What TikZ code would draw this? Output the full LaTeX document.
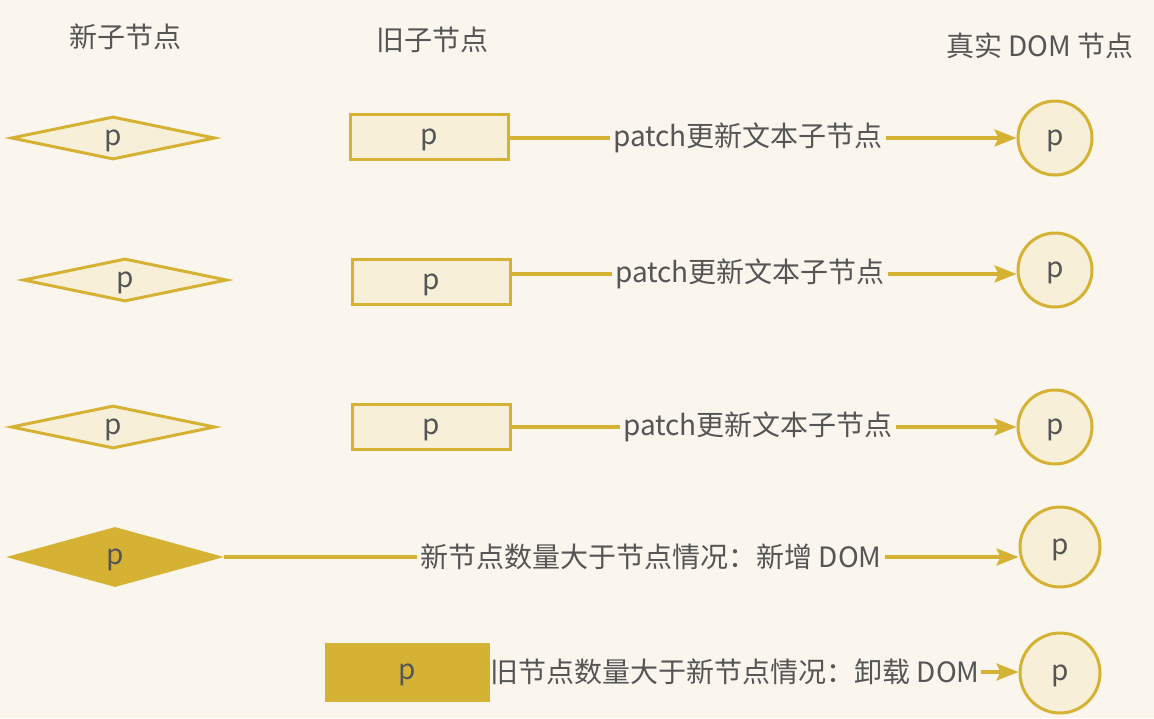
\documentclass[tikz,border=0pt]{standalone}
\usepackage{fontspec}
\setmainfont{Noto Sans CJK SC}
\usetikzlibrary{shapes.geometric,arrows.meta}
\definecolor{bg}{HTML}{FAF6EE}
\definecolor{lightfill}{HTML}{F7EFD7}
\definecolor{gold}{HTML}{D6B234}
\definecolor{txt}{HTML}{555555}
\begin{document}
\begin{tikzpicture}[x=1pt,y=-1pt,
  every node/.style={text=txt,font=\fontsize{28}{32}\selectfont},
  ptext/.style={text height=17pt,text depth=3pt},
  newdia/.style={diamond,ptext,draw=gold,line width=3pt,fill=lightfill,inner sep=0pt,aspect=4.5,minimum width=204pt,minimum height=43pt},
  newdiafull/.style={diamond,ptext,fill=gold,inner sep=0pt,aspect=3.6,minimum width=218pt,minimum height=60pt},
  oldbox/.style={rectangle,ptext,draw=gold,line width=3pt,fill=lightfill,minimum width=158pt,minimum height=45pt,inner sep=0pt},
  oldboxfull/.style={rectangle,ptext,fill=gold,minimum width=165pt,minimum height=59pt,inner sep=0pt},
  domc/.style={circle,ptext,draw=gold,line width=3pt,fill=lightfill,inner sep=0pt,minimum size=#1},
  domc/.default=74pt,
  lbl/.style={inner sep=3pt},
  conn/.style={draw=gold,line width=3.5pt},
  arr/.style={conn,-{Stealth[length=22pt,width=17pt,inset=4pt]}}
]
\useasboundingbox[fill=bg] (0,0) rectangle (1154,718);

% headers
\node (h1) at (125,37) {新子节点};
\node (h2) at (432,40) {旧子节点};
\node (h3) at (1040,46) {真实 DOM 节点};

% row 1
\node[newdia] (d1) at (113,138) {p};
\node[oldbox] (r1) at (429,137) {p};
\node[lbl] (l1) at (748,138) {patch更新文本子节点};
\node[domc] (c1) at (1055,138) {p};
\draw[conn] (r1.east |- l1.west) -- (l1.west);
\draw[arr] (l1.east) -- (l1.east -| c1.west);

% row 2
\node[newdia] (d2) at (125,280) {p};
\node[oldbox] (r2) at (431,282) {p};
\node[lbl] (l2) at (750,274) {patch更新文本子节点};
\node[domc] (c2) at (1055,270) {p};
\draw[conn] (r2.east |- l2.west) -- (l2.west);
\draw[arr] (l2.east) -- (l2.east -| c2.west);

% row 3
\node[newdia] (d3) at (113,427) {p};
\node[oldbox] (r3) at (431,427) {p};
\node[lbl] (l3) at (758,427) {patch更新文本子节点};
\node[domc] (c3) at (1055,427) {p};
\draw[conn] (r3.east |- l3.west) -- (l3.west);
\draw[arr] (l3.east) -- (l3.east -| c3.west);

% row 4
\node[newdiafull] (d4) at (115,557) {p};
\node[lbl] (l4) at (651,557) {新节点数量大于节点情况：新增 DOM};
\node[domc=80pt] (c4) at (1060,547) {p};
\draw[conn] (d4.east |- l4.west) -- (l4.west);
\draw[arr] (l4.east) -- (l4.east -| c4.west);

% row 5
\node[oldboxfull] (r5) at (407,672) {p};
\node[lbl,inner sep=1pt] (l5) at (735,672) {旧节点数量大于新节点情况：卸载 DOM};
\node[domc=80pt] (c5) at (1060,673) {p};
\draw[conn] (r5.east |- l5.west) -- (l5.west);
\draw[arr] (l5.east) -- (l5.east -| c5.west);
\end{tikzpicture}
\end{document}
